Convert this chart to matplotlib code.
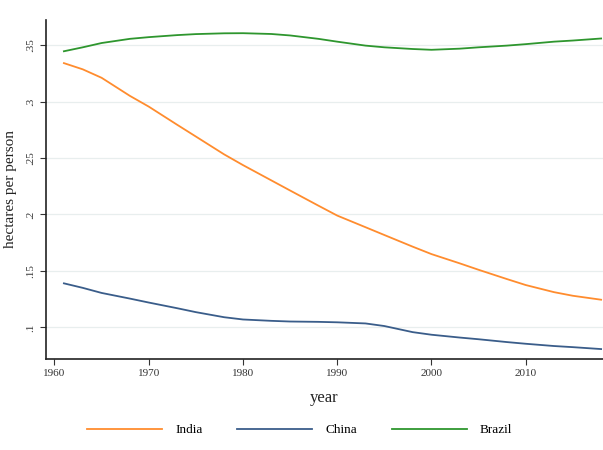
import numpy as np
import matplotlib.pyplot as plt

# Arable land per person, 1961-2018
years = [1961, 1963, 1965, 1968, 1970, 1973, 1975, 1978, 1980, 1983, 1985, 1988,
         1990, 1993, 1995, 1998, 2000, 2003, 2005, 2008, 2010, 2013, 2015, 2018]
india = [0.334, 0.3285, 0.321, 0.305, 0.2955, 0.2795, 0.269, 0.2532, 0.2437, 0.2302, 0.2212, 0.2078,
         0.199, 0.1887, 0.1818, 0.1715, 0.1649, 0.1567, 0.151, 0.1428, 0.1375, 0.1312, 0.128, 0.1245]
china = [0.139, 0.135, 0.1305, 0.1255, 0.122, 0.117, 0.1135, 0.109, 0.107, 0.1058, 0.1052, 0.1049,
         0.1045, 0.1035, 0.1012, 0.0958, 0.0935, 0.091, 0.0895, 0.087, 0.0855, 0.0835, 0.0825, 0.0808]
brazil = [0.3445, 0.348, 0.3518, 0.3555, 0.357, 0.3588, 0.3597, 0.3604, 0.3605, 0.3598, 0.3585, 0.3555,
          0.353, 0.3495, 0.348, 0.3465, 0.3458, 0.3468, 0.348, 0.3495, 0.3508, 0.353, 0.354, 0.3558]

xticks = [1960, 1970, 1980, 1990, 2000, 2010]
yticks = [0.1, 0.15, 0.2, 0.25, 0.3, 0.35]
ytick_labels = ['.1', '.15', '.2', '.25', '.3', '.35']

plt.rcParams['font.family'] = ['Liberation Serif', 'DejaVu Serif']

fig = plt.figure(figsize=(6.03, 4.5), dpi=100)
ax = fig.add_axes([0.0763, 0.2022, 0.9237, 0.7534])

ax.plot(years, india, color='#ff8c2e', lw=1.3, label='India')
ax.plot(years, china, color='#3a5d8a', lw=1.3, label='China')
ax.plot(years, brazil, color='#2e962e', lw=1.3, label='Brazil')

ax.set_xlim(1959.1, 2018.2)
ax.set_ylim(0.072, 0.3722)
ax.set_xticks(xticks)
ax.set_yticks(yticks)
ax.set_yticklabels(ytick_labels, rotation=90, va='center')
ax.tick_params(labelsize=8, colors='#333333', length=4, width=0.8)
ax.grid(axis='y', color='#e8eeee', lw=0.9)
ax.set_axisbelow(True)

for s in ['top', 'right']:
    ax.spines[s].set_visible(False)
for s in ['left', 'bottom']:
    ax.spines[s].set_linewidth(1.2)
    ax.spines[s].set_color('#222222')

ax.set_xlabel('year', fontsize=12, color='#222222', labelpad=8)
ax.set_ylabel('hectares per person', fontsize=11, color='#222222', labelpad=7)

fig.legend(loc='center', bbox_to_anchor=(0.497, 0.044), ncol=3, frameon=False,
           fontsize=9.5, handlelength=5.7, handletextpad=1.0, columnspacing=2.6)

fig.savefig('out.png', dpi=100)
